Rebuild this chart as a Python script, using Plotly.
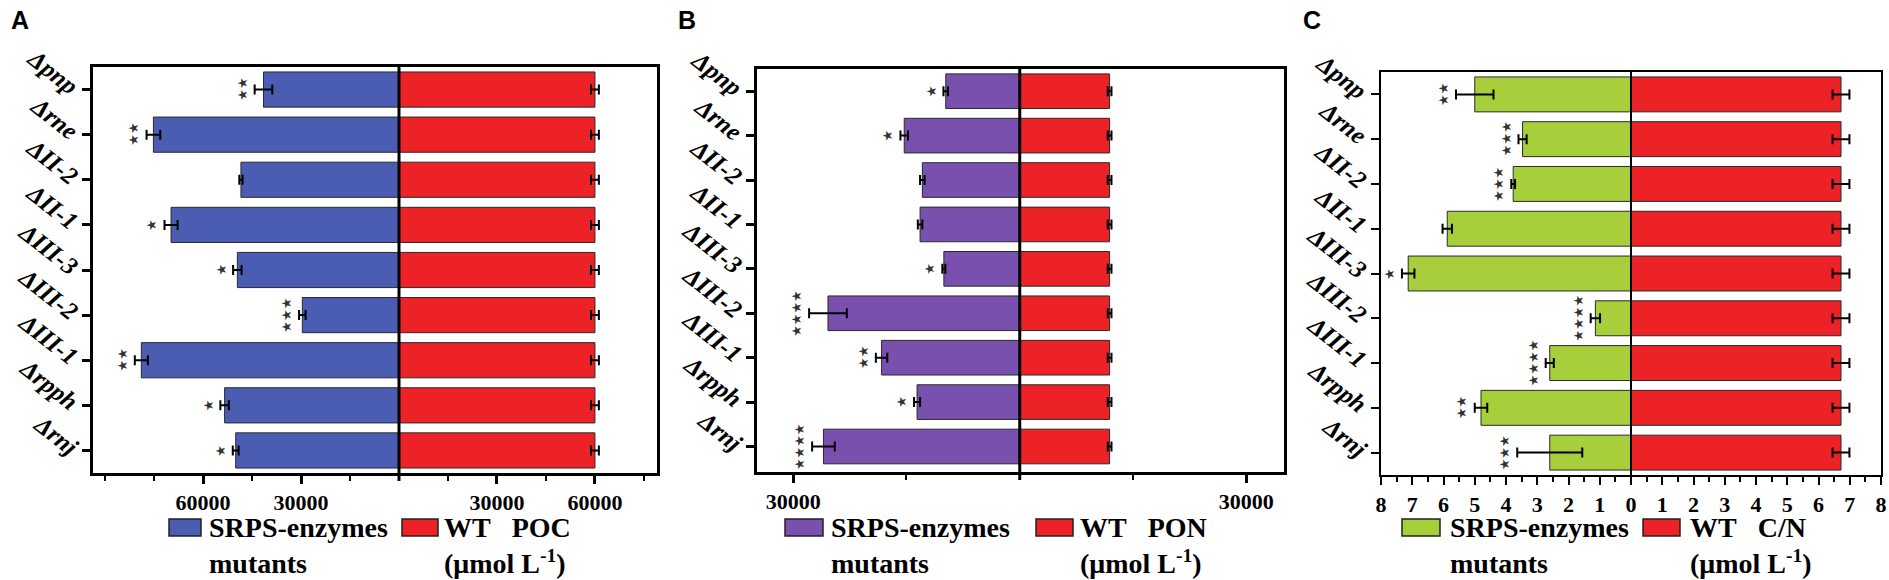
import plotly.graph_objects as go

W, H = 1889, 580

categories = ["Δpnp", "Δrne", "ΔII-2", "ΔII-1", "ΔIII-3", "ΔIII-2", "ΔIII-1", "Δrpph", "Δrnj"]

# Panel A: POC
poc_mutant = [41500, 75200, 48400, 69800, 49500, 29600, 78900, 53400, 50000]
poc_mutant_err = [2700, 2100, 500, 2000, 1300, 1000, 2000, 1300, 900]
poc_wt = [60000, 60000, 60000, 60000, 60000, 60000, 60000, 60000, 60000]
poc_wt_err = [1200, 1200, 1200, 1200, 1200, 1200, 1200, 1200, 1200]
poc_sig = ["**", "**", "", "*", "*", "***", "**", "*", "*"]
poc_tickvals = [-60000, -30000, 30000, 60000]
poc_ticktext = ["60000", "30000", "30000", "60000"]

# Panel B: PON
pon_mutant = [9800, 15300, 12900, 13200, 10050, 25400, 18300, 13600, 26000]
pon_mutant_err = [300, 500, 300, 300, 200, 2500, 760, 400, 1500]
pon_wt = [11900, 11900, 11900, 11900, 11900, 11900, 11900, 11900, 11900]
pon_wt_err = [250, 250, 250, 250, 250, 250, 250, 250, 250]
pon_sig = ["*", "*", "", "", "*", "****", "**", "*", "****"]
pon_tickvals = [-30000, 30000]
pon_ticktext = ["30000", "30000"]

# Panel C: C/N
cn_mutant = [5.0, 3.47, 3.77, 5.88, 7.13, 1.14, 2.6, 4.8, 2.6]
cn_mutant_err = [0.6, 0.13, 0.06, 0.15, 0.2, 0.15, 0.13, 0.2, 1.04]
cn_wt = [6.72, 6.72, 6.72, 6.72, 6.72, 6.72, 6.72, 6.72, 6.72]
cn_wt_err = [0.27, 0.27, 0.27, 0.27, 0.27, 0.27, 0.27, 0.27, 0.27]
cn_sig = ["**", "***", "***", "", "*", "****", "****", "**", "***"]
cn_tickvals = [-8, -7, -6, -5, -4, -3, -2, -1, 0, 1, 2, 3, 4, 5, 6, 7, 8]
cn_ticktext = ["8", "7", "6", "5", "4", "3", "2", "1", "0", "1", "2", "3", "4", "5", "6", "7", "8"]

legend_mutant = "SRPS-enzymes<br>mutants"
legend_wt = ["WT\u00a0\u00a0\u00a0POC<br>(μmol L<sup>-1</sup>)",
             "WT\u00a0\u00a0\u00a0PON<br>(μmol L<sup>-1</sup>)",
             "WT\u00a0\u00a0\u00a0C/N<br>(μmol L<sup>-1</sup>)"]
panel_letters = ["A", "B", "C"]


def px(x):
    return x / W


def py(y):
    return 1 - y / H


RED = "#ec2227"
panels = [
    dict(mut=poc_mutant, merr=poc_mutant_err, wt=poc_wt, werr=poc_wt_err, sig=poc_sig,
         tv=poc_tickvals, tt=poc_ticktext, color="#4b5db3", rng=[-93700, 79000],
         box=(93, 67, 657, 473), minor=15000, lw=2.5, zlw=3,
         leg=(169, 201, 207, 402, 438, 442), letter_x=9),
    dict(mut=pon_mutant, merr=pon_mutant_err, wt=pon_wt, werr=pon_wt_err, sig=pon_sig,
         tv=pon_tickvals, tt=pon_ticktext, color="#7a50ae", rng=[-34800, 35000],
         box=(757, 69, 1284, 472), minor=15000, lw=2.5, zlw=3,
         leg=(785, 823, 829, 1036, 1073, 1078), letter_x=676),
    dict(mut=cn_mutant, merr=cn_mutant_err, wt=cn_wt, werr=cn_wt_err, sig=cn_sig,
         tv=cn_tickvals, tt=cn_ticktext, color="#a6cf3b", rng=[-8, 8],
         box=(1381, 72, 1881, 475), minor=0.5, lw=2.2, zlw=2,
         leg=(1402, 1440, 1448, 1643, 1680, 1688), letter_x=1301),
]

fig = go.Figure()
shapes = []
annotations = []
serif = "Liberation Serif"

for i, p in enumerate(panels):
    sfx = "" if i == 0 else str(i + 1)
    xa, ya = "x" + sfx, "y" + sfx
    edge = "#2a2a2a"
    fig.add_trace(go.Bar(
        orientation="h", y=categories, x=[-v for v in p["mut"]],
        width=0.78, xaxis=xa, yaxis=ya, showlegend=False,
        marker=dict(color=p["color"], line=dict(color=edge, width=1)),
        error_x=dict(type="data", array=p["merr"], color="black", thickness=2, width=5),
    ))
    fig.add_trace(go.Bar(
        orientation="h", y=categories, x=p["wt"],
        width=0.78, xaxis=xa, yaxis=ya, showlegend=False,
        marker=dict(color=RED, line=dict(color=edge, width=1)),
        error_x=dict(type="data", array=p["werr"], color="black", thickness=2, width=5),
    ))
    x0, y0, x1, y1 = p["box"]
    axis_common = dict(showline=True, linecolor="black", linewidth=p["lw"], mirror=True,
                       showgrid=False, zeroline=False, ticks="outside", tickcolor="black",
                       tickwidth=p["lw"], ticklen=8)
    fig.update_layout(**{
        ("xaxis" + sfx): dict(
            domain=[px(x0), px(x1)], anchor=ya, range=p["rng"],
            tickvals=p["tv"], ticktext=p["tt"],
            tickfont=dict(family=serif, size=22, color="black", weight="bold"),
            minor=dict(dtick=p["minor"], tick0=0, ticks="outside", ticklen=5,
                       tickcolor="black", tickwidth=2),
            **axis_common),
        ("yaxis" + sfx): dict(
            domain=[py(y1), py(y0)], anchor=xa, type="category",
            categoryorder="array", categoryarray=categories, autorange="reversed",
            tickangle=38,
            tickfont=dict(family=serif, size=25, color="black", weight="bold", style="italic"),
            **axis_common),
    })
    # center line (extends slightly below the axis like a tick)
    shapes.append(dict(type="line", xref=xa, yref=ya + " domain", x0=0, x1=0, y0=-0.02, y1=1,
                       line=dict(color="black", width=p["zlw"]), layer="above"))
    # significance stars
    for c, v, e, s in zip(categories, p["mut"], p["merr"], p["sig"]):
        if s:
            annotations.append(dict(
                x=-(v + e), y=c, xref=xa, yref=ya, text="★" * len(s), showarrow=False,
                textangle=-90, xanchor="right", yanchor="middle", xshift=-3,
                font=dict(family="DejaVu Sans", size=13, color="#333333")))
    # legend boxes and text
    b1a, b1b, t1, b2a, b2b, t2 = p["leg"]
    shapes.append(dict(type="rect", xref="paper", yref="paper",
                       x0=px(b1a), x1=px(b1b), y0=py(536), y1=py(519),
                       fillcolor=p["color"], line=dict(color="#222222", width=1.5)))
    shapes.append(dict(type="rect", xref="paper", yref="paper",
                       x0=px(b2a), x1=px(b2b), y0=py(536), y1=py(519),
                       fillcolor=RED, line=dict(color="#222222", width=1.5)))
    annotations.append(dict(x=px(t1), y=py(545), xref="paper", yref="paper",
                            text=legend_mutant, showarrow=False, align="left",
                            xanchor="left", yanchor="middle",
                            font=dict(family=serif, size=28, color="black", weight="bold")))
    annotations.append(dict(x=px(t2), y=py(545), xref="paper", yref="paper",
                            text=legend_wt[i], showarrow=False, align="left",
                            xanchor="left", yanchor="middle",
                            font=dict(family=serif, size=28, color="black", weight="bold")))
    annotations.append(dict(x=px(p["letter_x"]), y=py(4), xref="paper", yref="paper",
                            text=panel_letters[i], showarrow=False,
                            xanchor="left", yanchor="top",
                            font=dict(family="Liberation Sans", size=25, color="black",
                                      weight="bold")))

fig.update_layout(
    width=W, height=H,
    margin=dict(l=0, r=0, t=0, b=0, autoexpand=False),
    paper_bgcolor="white", plot_bgcolor="white",
    barmode="overlay", bargap=0.2,
    shapes=shapes, annotations=annotations,
    showlegend=False,
)

fig.write_html("out.html", config={"displayModeBar": False},
               post_script="document.body.style.margin='0';document.body.style.overflow='hidden';")
